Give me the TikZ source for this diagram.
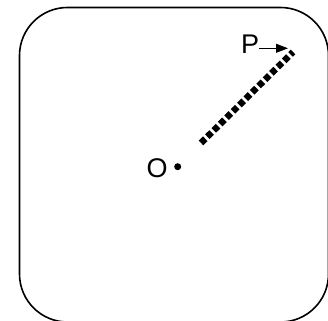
\documentclass[tikz,border=0pt]{standalone}
\usepackage{fontspec}
\setmainfont{Liberation Sans}
\usepackage{tikz}
\usetikzlibrary{arrows.meta,calc,positioning}

\tikzset{
  squaredots/.style={line width=6.5pt, dash pattern=on 6pt off 3pt},
  ptlabel/.style={font=\fontsize{27}{31}\selectfont, inner sep=0pt}
}

\begin{document}
\begin{tikzpicture}[x=1pt, y=1pt]
  \useasboundingbox (0,0) rectangle (328,320);
  % frame
  \draw[line width=1.6pt, rounded corners=48pt] (19.5,312.5) rectangle (328.5,-2);

  % centre point O
  \coordinate (o) at (177.7,153.3);
  \fill (o) circle (3.5pt);
  \node[ptlabel] (olab) at (157,151.5) {O};

  % dotted radius towards P
  \coordinate (r1) at (201,177);
  \coordinate (r2) at (293,268);
  \draw[squaredots] (r1) -- (r2);

  % label P with its arrow
  \node[ptlabel] (plab) at (250,276.2) {P};
  \coordinate (tip) at (288,271.7);
  \draw[-{Triangle[length=12pt,width=9pt]}, line width=0.9pt] (plab.east |- tip) -- (tip);
\end{tikzpicture}
\end{document}
